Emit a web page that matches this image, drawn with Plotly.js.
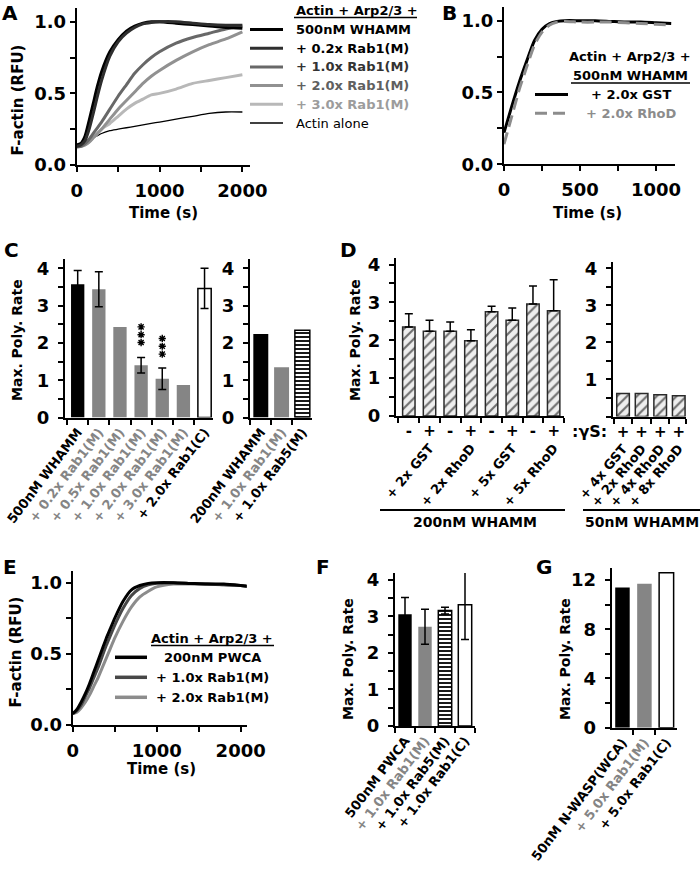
<!DOCTYPE html>
<html><head><meta charset="utf-8">
<script src="https://cdn.plot.ly/plotly-3.0.1.min.js"></script>
<style>html,body{margin:0;padding:0;background:#fff}#chart{width:700px;height:871px}</style>
</head><body><div id="chart"></div>
<script>
// ================= DATA =================
// Panel A : kinetics, 500 nM WHAMM +/- Rab1(M)
const timeA = [0,50,100,150,200,250,300,400,500,600,700,800,900,1000,1200,1400,1600,1800,2000];
const namesA = ['500nM WHAMM','+ 0.2x Rab1(M)','+ 1.0x Rab1(M)','+ 2.0x Rab1(M)','+ 3.0x Rab1(M)','Actin alone'];
const whamm500 = [0.14,0.15,0.20,0.31,0.43,0.55,0.65,0.79,0.875,0.935,0.97,0.99,1.0,1.0,0.99,0.98,0.97,0.96,0.955];
const rab1x02  = [0.13,0.14,0.17,0.25,0.36,0.48,0.59,0.76,0.86,0.92,0.96,0.985,0.995,1.0,1.0,0.99,0.98,0.975,0.975];
const rab1x10  = [0.13,0.13,0.15,0.18,0.22,0.26,0.30,0.39,0.48,0.56,0.64,0.70,0.75,0.79,0.85,0.89,0.92,0.95,0.97];
const rab1x20  = [0.13,0.13,0.14,0.16,0.19,0.22,0.25,0.32,0.39,0.45,0.51,0.57,0.62,0.66,0.73,0.79,0.84,0.88,0.93];
const rab1x30  = [0.12,0.13,0.14,0.16,0.19,0.22,0.25,0.29,0.34,0.39,0.43,0.46,0.49,0.50,0.53,0.57,0.59,0.61,0.63];
const actinAlone = [0.13,0.14,0.15,0.17,0.19,0.205,0.22,0.24,0.25,0.26,0.27,0.28,0.29,0.30,0.32,0.34,0.36,0.37,0.37];

// Panel B
const timeB = [0,50,100,150,200,250,300,350,400,500,600,700,800,900,1000,1100];
const namesB = ['+ 2.0x GST','+ 2.0x RhoD'];
const gstB  = [0.22,0.40,0.57,0.72,0.86,0.94,0.98,0.995,1.0,1.0,1.0,0.995,0.99,0.99,0.985,0.98];
const rhodB = [0.14,0.33,0.52,0.68,0.83,0.92,0.97,0.99,0.995,0.99,0.99,0.99,0.985,0.98,0.975,0.97];

// Panel C
const catsC1 = ['500nM WHAMM','+ 0.2x Rab1(M)','+ 0.5x Rab1(M)','+ 1.0x Rab1(M)','+ 2.0x Rab1(M)','+ 3.0x Rab1(M)','+ 2.0x Rab1(C)'];
const rateC1 = [3.57,3.44,2.43,1.40,1.04,0.87,3.46];
const errC1  = [0.37,0.47,NaN,0.21,0.29,NaN,0.54];
const starCat = ['+ 1.0x Rab1(M)','+ 1.0x Rab1(M)','+ 1.0x Rab1(M)','+ 2.0x Rab1(M)','+ 2.0x Rab1(M)','+ 2.0x Rab1(M)'];
const starY   = [2.43,2.22,2.01,2.12,1.91,1.70];
const catsC2 = ['200nM WHAMM','+ 1.0x Rab1(M)','+ 1.0x Rab5(M)'];
const rateC2 = [2.24,1.35,2.34];

// Panel D
const gammaD1 = ['-','+','-','+','-','+','-','+'];
const groupsD1 = ['+ 2x GST','+ 2x RhoD','+ 5x GST','+ 5x RhoD'];
const rateD1 = [2.35,2.24,2.24,1.99,2.75,2.53,2.96,2.78];
const errD1  = [0.35,0.29,0.24,0.29,0.15,0.32,0.47,0.82];
const gammaD2 = ['+','+','+','+'];
const groupsD2 = ['+ 4x GST','+ 2x RhoD','+ 4x RhoD','+ 8x RhoD'];
const rateD2 = [0.62,0.62,0.59,0.56];

// Panel E
const timeE = [0,50,100,150,200,250,300,350,400,450,500,600,700,800,900,1000,1200,1400,1600,1800,2000,2080];
const namesE = ['200nM PWCA','+ 1.0x Rab1(M)','+ 2.0x Rab1(M)'];
const pwca      = [0.08,0.11,0.16,0.22,0.29,0.37,0.45,0.53,0.61,0.68,0.75,0.87,0.95,0.98,0.995,1.0,1.0,0.995,0.99,0.99,0.98,0.975];
const pwcaRab10 = [0.08,0.10,0.14,0.20,0.26,0.33,0.40,0.48,0.56,0.63,0.70,0.82,0.91,0.96,0.985,0.995,1.0,0.995,0.99,0.985,0.98,0.975];
const pwcaRab20 = [0.08,0.09,0.12,0.16,0.21,0.27,0.33,0.40,0.47,0.54,0.61,0.73,0.83,0.90,0.94,0.97,0.99,0.99,0.99,0.985,0.98,0.975];

// Panel F
const catsF = ['500nM PWCA','+ 1.0x Rab1(M)','+ 1.0x Rab5(M)','+ 1.0x Rab1(C)'];
const rateF = [3.06,2.72,3.16,3.32];
const errF  = [0.46,0.48,0.09,0.95];

// Panel G
const catsG = ['50nM N-WASP(WCA)','+ 5.0x Rab1(M)','+ 5.0x Rab1(C)'];
const rateG = [11.4,11.7,12.6];

// ================= STYLE HELPERS =================
const W = 700, H = 871;
const X = v => v / W, Y = v => 1 - v / H;
const FAM = 'DejaVu Sans';
const fnt = (size, color, weight) => ({family: FAM, size: size, color: color || '#000', weight: weight || 'bold'});
const GRAY = '#858585';
const colorTick = (txt, c) => c === '#000' ? txt : '<span style="color:' + c + '">' + txt + '</span>';
const minorT = (d) => ({dtick: d, ticks: 'outside', ticklen: 5, tickwidth: 2, tickcolor: '#000'});
function ax(extra) {
  return Object.assign({showline: true, linewidth: 2, linecolor: '#000', ticks: 'outside', ticklen: 5,
    tickwidth: 2, tickcolor: '#000', showgrid: false, zeroline: false, fixedrange: true, tickfont: fnt(18)}, extra);
}
const idx = a => a.map((_, i) => i);
const bounds = a => [-0.5].concat(a.map((_, i) => i + 0.5));

// ================= TRACES =================
const seriesA = [whamm500, rab1x02, rab1x10, rab1x20, rab1x30, actinAlone];
const colorsA = ['#000000', '#2e2e2e', '#686868', '#919191', '#b8b8b8', '#000000'];
const widthsA = [3, 3, 3, 3, 3, 1.3];
const textColA = ['#000', '#000', '#333', '#606060', '#9c9c9c', '#000'];
const drawOrderA = [5, 4, 3, 2, 0, 1];
const traces = [];
drawOrderA.forEach(i => traces.push({type: 'scatter', mode: 'lines', x: timeA, y: seriesA[i], name: namesA[i],
  xaxis: 'x', yaxis: 'y', line: {color: colorsA[i], width: widthsA[i], shape: 'spline', smoothing: 0.6}}));

const seriesB = [gstB, rhodB];
const colorsB = ['#000000', '#8c8c8c'];
const dashB = ['solid', '12px,6px'];
seriesB.forEach((s, i) => traces.push({type: 'scatter', mode: 'lines', x: timeB, y: s, name: namesB[i],
  xaxis: 'x2', yaxis: 'y2', line: {color: colorsB[i], width: 3, dash: dashB[i], shape: 'spline', smoothing: 0.6}}));

const fillC1 = ['#000', GRAY, GRAY, GRAY, GRAY, GRAY, '#fff'];
traces.push({type: 'bar', x: catsC1, y: rateC1, xaxis: 'x3', yaxis: 'y3', width: 0.63,
  marker: {color: fillC1, line: {color: '#000', width: [0, 0, 0, 0, 0, 0, 1.5]}},
  error_y: {type: 'data', array: errC1, visible: true, color: '#000', thickness: 1.5, width: 4}});
traces.push({type: 'scatter', mode: 'markers', x: starCat, y: starY, xaxis: 'x3', yaxis: 'y3', name: '***',
  marker: {symbol: 'asterisk-open', size: 6, color: '#000', line: {color: '#000', width: 1.4}}});
traces.push({type: 'bar', x: catsC2, y: rateC2, xaxis: 'x4', yaxis: 'y4', width: 0.72,
  marker: {color: ['#000', GRAY, '#000'], line: {color: '#000', width: [0, 0, 1.5]},
    pattern: {shape: ['', '', '-'], fgcolor: '#000', bgcolor: '#fff', size: 4, solidity: 0.45}}});

const hatch = {shape: '/', fgcolor: '#6e6e6e', bgcolor: '#eeeeee', size: 7, solidity: 0.3};
traces.push({type: 'bar', x: idx(rateD1), y: rateD1, xaxis: 'x5', yaxis: 'y5', width: 0.6,
  marker: {color: '#6e6e6e', line: {color: '#2a2a2a', width: 1.5}, pattern: hatch},
  error_y: {type: 'data', symmetric: false, array: errD1, arrayminus: errD1.map(() => 0), visible: true,
    color: '#000', thickness: 1.5, width: 4}});
traces.push({type: 'bar', x: idx(rateD2), y: rateD2, xaxis: 'x6', yaxis: 'y6', width: 0.68,
  marker: {color: '#6e6e6e', line: {color: '#2a2a2a', width: 1.5}, pattern: hatch}});
// empty helper traces so the overlay label axes exist
traces.push({type: 'scatter', mode: 'markers', x: [], y: [], xaxis: 'x10', yaxis: 'y5', hoverinfo: 'skip'});
traces.push({type: 'scatter', mode: 'markers', x: [], y: [], xaxis: 'x11', yaxis: 'y6', hoverinfo: 'skip'});

const seriesE = [pwca, pwcaRab10, pwcaRab20];
const colorsE = ['#000000', '#474747', '#8c8c8c'];
[2, 1, 0].forEach(i => traces.push({type: 'scatter', mode: 'lines', x: timeE, y: seriesE[i], name: namesE[i],
  xaxis: 'x7', yaxis: 'y7', line: {color: colorsE[i], width: 3, shape: 'spline', smoothing: 0.6}}));

traces.push({type: 'bar', x: catsF, y: rateF, xaxis: 'x8', yaxis: 'y8', width: 0.67,
  marker: {color: ['#000', GRAY, '#000', '#fff'], line: {color: '#000', width: [0, 0, 1.5, 1.5]},
    pattern: {shape: ['', '', '-', ''], fgcolor: '#000', bgcolor: '#fff', size: 4, solidity: 0.45}},
  error_y: {type: 'data', array: errF, visible: true, color: '#000', thickness: 1.5, width: 4}});
traces.push({type: 'bar', x: catsG, y: rateG, xaxis: 'x9', yaxis: 'y9', width: 0.66,
  marker: {color: ['#000', GRAY, '#fff'], line: {color: '#000', width: [0, 0, 1.5]}}});

// ================= LAYOUT =================
const labColC1 = ['#000', GRAY, GRAY, GRAY, GRAY, GRAY, '#000'];
const labColC2 = ['#000', GRAY, '#000'];
const labColF = ['#000', GRAY, '#000', '#000'];
const labColG = ['#000', GRAY, '#000'];
const catAx = (dom, rng, cats, cols) => ax({type: 'category', domain: dom, range: rng, tickson: 'boundaries',
  tickmode: 'array', tickvals: cats, ticktext: cats.map((c, i) => colorTick(c, cols[i])), tickangle: -53,
  tickfont: fnt(13)});

const layout = {
  width: W, height: H, margin: {l: 0, r: 0, t: 0, b: 0}, showlegend: false,
  paper_bgcolor: '#fff', plot_bgcolor: 'rgba(0,0,0,0)', bargap: 0,
  xaxis: ax({domain: [X(76.7), X(250)], range: [0, 2092], anchor: 'y', dtick: 1000, tick0: 0, minor: minorT(500), ticklabelstandoff: 3}),
  yaxis: ax({domain: [Y(165), Y(8)], range: [0, 1.096], anchor: 'x', dtick: 0.5, tickformat: '.1f', minor: minorT(0.25)}),
  xaxis2: ax({domain: [X(504), X(675)], range: [0, 1125], anchor: 'y2', dtick: 500, tick0: 0, minor: minorT(250), ticklabelstandoff: 3}),
  yaxis2: ax({domain: [Y(164.3), Y(7.3)], range: [0, 1.093], anchor: 'x2', dtick: 0.5, tickformat: '.1f', minor: minorT(0.25)}),
  xaxis3: Object.assign(catAx([X(65), X(213)], [-0.6, 6.4], catsC1, labColC1), {anchor: 'y3'}),
  yaxis3: ax({domain: [Y(417.5), Y(259)], range: [0, 4.25], anchor: 'x3', dtick: 1, minor: minorT(0.5), ticklabelstandoff: 5}),
  xaxis4: Object.assign(catAx([X(250), X(311.7)], [-0.52, 2.45], catsC2, labColC2), {anchor: 'y4'}),
  yaxis4: ax({domain: [Y(417.5), Y(259)], range: [0, 4.25], anchor: 'x4', dtick: 1, minor: minorT(0.5), ticklabelstandoff: 5}),
  xaxis5: ax({domain: [X(396), X(564)], range: [-0.62, 7.5], anchor: 'y5', tickmode: 'array', tickvals: idx(gammaD1),
    ticktext: gammaD1, ticks: '', tickfont: fnt(15),
    minor: {tickmode: 'array', tickvals: bounds(gammaD1), ticks: 'outside', ticklen: 5, tickwidth: 2, tickcolor: '#000'}}),
  yaxis5: ax({domain: [Y(416), Y(257.7)], range: [0, 4.18], anchor: 'x5', dtick: 1, minor: minorT(0.5), ticklabelstandoff: 5}),
  xaxis10: {overlaying: 'x5', anchor: 'y5', side: 'bottom', type: 'linear', range: [-0.62, 7.5], showline: false,
    showgrid: false, zeroline: false, ticks: '', tickmode: 'array', tickvals: [1, 3, 5, 7], ticktext: groupsD1,
    tickangle: -50, tickfont: fnt(13), ticklabelstandoff: 21, fixedrange: true},
  xaxis6: ax({domain: [X(613), X(686)], range: [-0.54, 3.39], anchor: 'y6', tickmode: 'array', tickvals: idx(gammaD2),
    ticktext: gammaD2, ticks: '', tickfont: fnt(15),
    minor: {tickmode: 'array', tickvals: bounds(gammaD2).slice(0, 4).concat([3.39]), ticks: 'outside', ticklen: 5, tickwidth: 2, tickcolor: '#000'}}),
  yaxis6: ax({domain: [Y(416.5), Y(261.7)], range: [0, 4.18], anchor: 'x6', tickmode: 'array', tickvals: [1, 2, 3, 4],
    minor: minorT(0.5), ticklabelstandoff: 5}),
  xaxis11: {overlaying: 'x6', anchor: 'y6', side: 'bottom', type: 'linear', range: [-0.54, 3.39], showline: false,
    showgrid: false, zeroline: false, ticks: '', tickmode: 'array', tickvals: idx(groupsD2), ticktext: groupsD2,
    tickangle: -50, tickfont: fnt(13), ticklabelstandoff: 21, fixedrange: true},
  xaxis7: ax({domain: [X(72.7), X(246.7)], range: [0, 2072], anchor: 'y7', dtick: 1000, tick0: 0, minor: minorT(500), ticklabelstandoff: 3}),
  yaxis7: ax({domain: [Y(725), Y(571)], range: [0, 1.082], anchor: 'x7', dtick: 0.5, tickformat: '.1f', minor: minorT(0.25)}),
  xaxis8: Object.assign(catAx([X(395), X(475)], [-0.5, 3.5], catsF, labColF), {anchor: 'y8'}),
  yaxis8: ax({domain: [Y(726), Y(573)], range: [0, 4.19], anchor: 'x8', dtick: 1, minor: minorT(0.5), ticklabelstandoff: 5}),
  xaxis9: Object.assign(catAx([X(611.7), X(676.7)], [-0.49, 2.47], catsG, labColG), {anchor: 'y9'}),
  yaxis9: ax({domain: [Y(727.7), Y(568)], range: [0, 12.98], anchor: 'x9', dtick: 4, minor: minorT(2), ticklabelstandoff: 5}),
  annotations: [], shapes: []
};

const ann = (text, x, y, opts) => layout.annotations.push(Object.assign({text: text, x: X(x), y: Y(y), xref: 'paper',
  yref: 'paper', showarrow: false, xanchor: 'center', yanchor: 'middle', font: fnt(15)}, opts || {}));
const hline = (x0, x1, y, color, width, dash) => layout.shapes.push({type: 'line', xref: 'paper', yref: 'paper',
  x0: X(x0), x1: X(x1), y0: Y(y), y1: Y(y), line: {color: color, width: width, dash: dash || 'solid'}});

// panel letters
[['A', 10, 13], ['B', 449.5, 13], ['C', 11.5, 250], ['D', 348.5, 250], ['E', 9.5, 567], ['F', 322.5, 567], ['G', 543.5, 567]]
  .forEach(p => ann(p[0], p[1], p[2], {font: fnt(20)}));

// axis titles
ann('F-actin (RFU)', 17.5, 100, {textangle: -90, font: fnt(15)});
ann('Time (s)', 163, 213, {font: fnt(15)});
ann('Time (s)', 587, 213, {font: fnt(15)});
ann('Max. Poly. Rate', 16.5, 340.5, {textangle: -90, font: fnt(14)});
ann('Max. Poly. Rate', 354.5, 340.5, {textangle: -90, font: fnt(14)});
ann('F-actin (RFU)', 15.5, 652, {textangle: -90, font: fnt(15)});
ann('Time (s)', 161.5, 769, {font: fnt(15)});
ann('Max. Poly. Rate', 347.5, 659.5, {textangle: -90, font: fnt(14)});
ann('Max. Poly. Rate', 564.5, 659.5, {textangle: -90, font: fnt(14)});

// legend A
ann('Actin + Arp2/3 +', 294, 10, {xanchor: 'left', font: fnt(13)});
hline(294, 417, 17.5, '#000', 1.5);
namesA.forEach((n, i) => {
  const yy = 29.5 + i * 18.7;
  hline(250, 283, yy, colorsA[i], i === 5 ? 1.3 : 3);
  ann(n, 294, yy, {xanchor: 'left', font: fnt(13, textColA[i], i === 5 ? 'normal' : 'bold')});
});

// legend B
ann('Actin + Arp2/3 +', 630, 57, {font: fnt(13)});
ann('500nM WHAMM', 630, 76, {font: fnt(13)});
hline(571, 690, 83, '#000', 1.5);
namesB.forEach((n, i) => {
  const yy = 94.5 + i * 18.7;
  hline(535, 568, yy, colorsB[i], 3, i === 1 ? '12px,6px' : 'solid');
  ann(n, 631, yy, {font: fnt(13, i === 1 ? '#8c8c8c' : '#000')});
});

// legend E
ann('Actin + Arp2/3 +', 212.5, 638.3, {font: fnt(13)});
hline(151, 274, 645.5, '#000', 1.5);
namesE.forEach((n, i) => {
  const yy = 657.3 + i * 20;
  hline(115, 147, yy, colorsE[i], 3.5);
  ann(n, 212.5, yy, {font: fnt(13)});
});

// D annotations
ann(':γS:', 589, 431, {font: fnt(16)});
hline(380, 565, 510, '#000', 2);
ann('200nM WHAMM', 475, 522, {font: fnt(14)});
hline(583, 700, 510, '#000', 2);
ann('50nM WHAMM', 642, 522, {font: fnt(14)});

Plotly.newPlot('chart', traces, layout, {displayModeBar: false, staticPlot: true});
</script>
</body></html>
